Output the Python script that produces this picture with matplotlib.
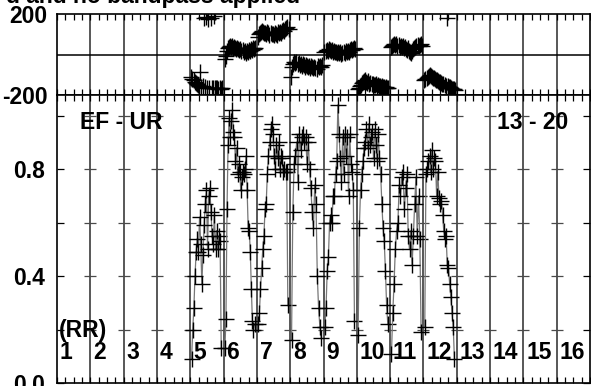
import numpy as np
import matplotlib.pyplot as plt

plt.rcParams['font.family'] = ['Liberation Sans', 'DejaVu Sans']
plt.rcParams['font.weight'] = 'bold'

# panels (channels) that hold data, 1-based
panels = [5, 6, 7, 8, 9, 10, 11, 12]

# amplitude per panel
amp = {
    5: [0.09, 0.20, 0.28, 0.40, 0.49, 0.54, 0.49, 0.62, 0.52, 0.37, 0.48, 0.59, 0.67,
        0.72, 0.50, 0.70, 0.73, 0.64, 0.55, 0.52, 0.63, 0.50, 0.57, 0.50, 0.55, 0.53, 0.13],
    6: [0.13, 0.24, 0.65, 0.89, 0.99, 0.92, 0.98, 1.02, 0.94, 0.92, 0.83, 0.88, 0.78,
        0.82, 0.79, 0.72, 0.77, 0.79, 0.78, 0.80, 0.85, 0.72, 0.58, 0.57, 0.49, 0.35,
        0.23, 0.20, 0.22],
    7: [0.22, 0.26, 0.35, 0.43, 0.50, 0.55, 0.65, 0.67, 0.78, 0.85, 0.90, 0.95, 0.97,
        0.93, 0.85, 0.80, 0.89, 0.84, 0.90, 0.80, 0.85, 0.84, 0.79, 0.80, 0.79, 0.79, 0.29],
    8: [0.16, 0.64, 0.82, 0.85, 0.90, 0.75, 0.93, 0.87, 0.92, 0.93, 0.90, 0.92, 0.82,
        0.90, 0.80, 0.73, 0.64, 0.58, 0.74, 0.67, 0.40, 0.28, 0.21, 0.17],
    9: [0.21, 0.28, 0.42, 0.47, 0.60, 0.63, 0.60, 0.70, 0.70, 0.78, 0.83, 1.04, 0.93,
        0.84, 0.75, 0.92, 0.78, 0.93, 0.85, 0.92, 0.70, 0.93, 0.82, 0.79, 0.72, 0.23],
    10: [0.18, 0.58, 0.72, 0.78, 0.83, 0.88, 0.90, 0.95, 0.88, 0.97, 0.89, 0.92, 0.94,
         0.84, 0.95, 0.89, 0.83, 0.93, 0.84, 0.78, 0.67, 0.58, 0.53, 0.42, 0.29, 0.22],
    11: [0.11, 0.26, 0.37, 0.50, 0.57, 0.60, 0.74, 0.70, 0.77, 0.79, 0.65, 0.73, 0.78,
         0.55, 0.50, 0.57, 0.44, 0.55, 0.67, 0.77, 0.55, 0.70, 0.54, 0.19],
    12: [0.21, 0.78, 0.80, 0.83, 0.85, 0.79, 0.87, 0.80, 0.84, 0.83, 0.70, 0.79, 0.69,
         0.67, 0.68, 0.63, 0.57, 0.54, 0.55, 0.44, 0.43, 0.37, 0.32, 0.26, 0.21, 0.09],
}

# phase per panel (degrees)
phase = {
    5: [-112, -120, -128, -135, -142, -148, -152, -155, -85, -160, -158, 178, -162, 185,
        -165, 176, -163, 182, -166, -164, 188, -167, -165, -163, -168, -166, -170, -165],
    6: [-20, -5, 15, 30, 38, 42, 35, 40, 33, 38, 30, 28, 32, 25, 22, 28, 18, 20, 12, 15,
        8, 18, 12, 20, 15, 25, 22, 30, 28, 32],
    7: [88, 100, 105, 112, 118, 110, 104, 108, 100, 112, 104, 96, 108, 100, 102, 95, 106,
        100, 98, 110, 104, 112, 108, 115, 120, 118, 125, 130, 135, 128],
    8: [-110, -60, -45, -38, -42, -35, -48, -40, -50, -45, -55, -48, -52, -60, -50, -58,
        -62, -55, -65, -58, -60, -68, -62, -66, -70, -58, -64, -55, -60, -52],
    9: [10, 15, 22, 18, 25, 20, 15, 22, 12, 18, 10, 14, 8, 12, 5, 10, 2, 8, 12, 5, 15, 10,
        18, 14, 20, 25, 22, 28, 30, 25],
    10: [-168, -165, -155, -150, -142, -138, -130, -128, -135, -140, -132, -145, -140, -148,
         -145, -150, -152, -148, -155, -150, -158, -155, -160, -158, -162, -160, -165,
         -162, -166, -164],
    11: [35, 40, 48, 52, 45, 50, 42, 48, 38, 44, 35, 40, 30, 36, 28, 22, 30, 18, 10, 5, 15,
         25, 30, 35, 40, 45, 42, 48, 50, 44],
    12: [-125, -120, -115, -110, -105, -100, -108, -112, -118, -115, -122, -128, -125, -132,
         -138, -135, -142, -148, -145, -152, -155, 180, -158, -162, -160, -165, -168, -170,
         -172, -175],
}

n_panels = 16
fs = 16.5

fig = plt.figure(figsize=(5.91, 3.86), dpi=100)
axp = fig.add_axes([57/591, 1-95/386, 533/591, 81/386])
axa = fig.add_axes([57/591, 1-383/386, 533/591, 288/386], sharex=axp)

gcol = '#4a4a4a'
for ax in (axp, axa):
    ax.set_xlim(0, n_panels)
    for i in range(1, n_panels):
        ax.axvline(i, color=gcol, lw=1.3, zorder=1)
    ax.set_xticks(np.arange(0, n_panels + 0.01, 0.25))
    ax.tick_params(axis='x', direction='in', length=4, width=0.9, top=True, bottom=True,
                   labelbottom=False, labeltop=False, color='black')
    for s in ax.spines.values():
        s.set_linewidth(1.2)

# phase panel
axp.set_ylim(-200, 200)
axp.axhline(0, color='black', lw=1.1, zorder=1)
axp.set_yticks([-200, 200])
axp.set_yticklabels(['-200', '200'], fontsize=fs, fontweight='bold')
axp.tick_params(axis='y', length=0, pad=7)
for p in panels:
    y = phase[p]
    x = np.linspace(p - 1 + 0.03, p - 1 + 0.95, len(y))
    axp.plot(x, y, ls='none', marker='+', ms=11, mew=1.0, color='black', zorder=3)

# amplitude panel
axa.set_ylim(0, 1.077)
axa.set_yticks([0.0, 0.2, 0.4, 0.6, 0.8, 1.0])
axa.set_yticklabels(['0.0', '', '0.4', '', '0.8', ''], fontsize=fs, fontweight='bold')
axa.tick_params(axis='y', direction='in', length=5, width=0.9, left=True, right=True, pad=9)
levels = [0.2, 0.4, 0.6, 0.8, 1.0]
for i in range(1, n_panels):
    axa.plot([i] * len(levels), levels, ls='none', marker='_', ms=8, mew=0.9,
             color=gcol, zorder=2)
for p in panels:
    y = amp[p]
    x = np.linspace(p - 1 + 0.04, p - 1 + 0.93, len(y))
    axa.plot(x, y, color='#777777', lw=0.9, marker='+', ms=11, mew=1.0,
             mec='black', zorder=3)

# panel numbers and labels
for i in range(1, n_panels + 1):
    axa.text(i - 1 + 0.08, 0.115, str(i), fontsize=fs, fontweight='bold', va='center',
             ha='left', zorder=4)
axa.text(0.06, 0.195, '(RR)', fontsize=fs, fontweight='bold', va='center', ha='left')
axa.text(0.69, 0.975, 'EF - UR', fontsize=fs, fontweight='bold', va='center', ha='left')
axa.text(13.2, 0.975, '13 - 20', fontsize=fs, fontweight='bold', va='center', ha='left')

fig.text(300/591, 1 - 3/386, 'd and no bandpass applied', fontsize=fs,
         fontweight='bold', ha='right', va='baseline')

fig.savefig('out.png', dpi=100)
